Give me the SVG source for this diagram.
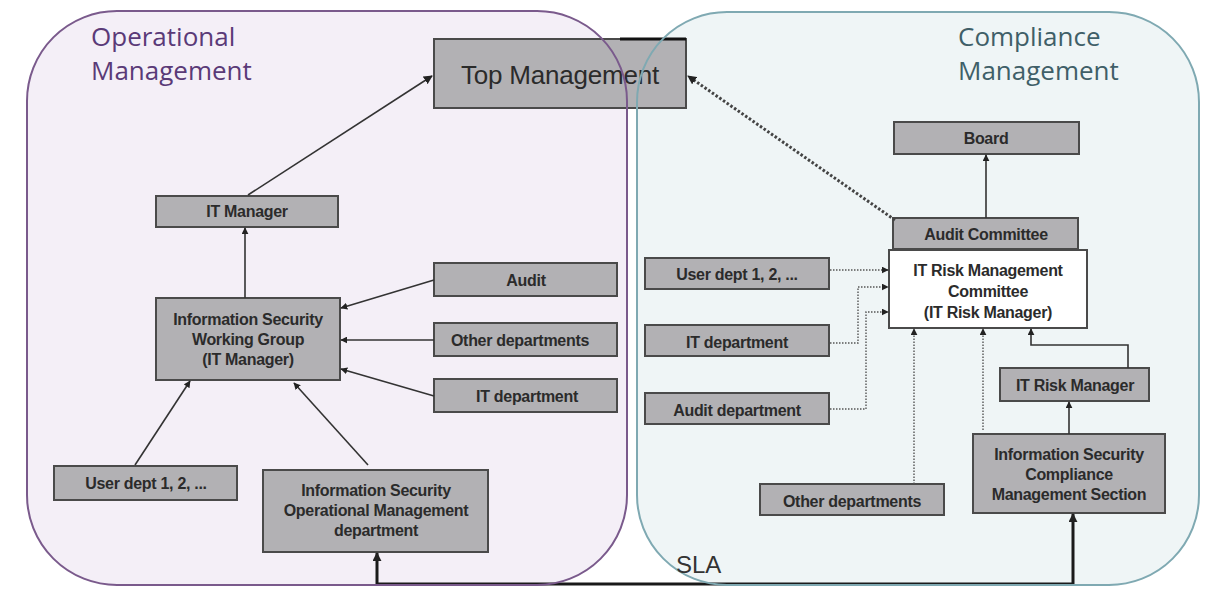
<svg xmlns="http://www.w3.org/2000/svg" width="1220" height="592" viewBox="0 0 1220 592">
<style>
.box{fill:#b2b1b4;stroke:#4a4a4a;stroke-width:2}
.wbox{fill:#ffffff;stroke:#4a4a4a;stroke-width:2}
.t{font-family:"Liberation Sans",Arial,sans-serif;font-size:16px;font-weight:bold;fill:#2b2b2b;text-anchor:middle;letter-spacing:-0.3px}
.c{fill:none;stroke:#333;stroke-width:1.6}
.d{fill:none;stroke:#555;stroke-width:1.4;stroke-dasharray:1.5 1.5}
.dd{fill:none;stroke:#444;stroke-width:3;stroke-dasharray:2.5 2}
.sla{fill:none;stroke:#1a1a1a;stroke-width:3}
.h{font-family:"Open Sans","Noto Sans",sans-serif;font-size:26px}
</style>
<defs>
<marker id="a" viewBox="0 0 10 10" refX="9" refY="5" markerWidth="7" markerHeight="7" orient="auto" markerUnits="userSpaceOnUse"><path d="M0,0L10,5L0,10z" fill="#222"/></marker>
<marker id="as" viewBox="0 0 10 10" refX="9" refY="5" markerWidth="9" markerHeight="9" orient="auto" markerUnits="userSpaceOnUse"><path d="M0,0L10,5L0,10z" fill="#222"/></marker>
</defs>
<rect width="1220" height="592" fill="#ffffff"/>
<g id="containers-fill">
<rect x="27" y="11" width="600" height="574" rx="90" fill="#f4eff7"/>
<rect x="637" y="12" width="562" height="573" rx="90" fill="#eff5f6"/>
</g>
<g id="n-top"><rect class="box" x="434" y="39" width="252" height="69"/><path d="M620,39H686" stroke="#111" stroke-width="3"/><text x="560" y="84" style="font-family:'Liberation Sans',Arial,sans-serif;font-size:26px;fill:#2b2b2b;text-anchor:middle;letter-spacing:-0.2px">Top Management</text></g>
<g id="n-itmgr"><rect class="box" x="156" y="196" width="182" height="31"/><text class="t" x="247" y="217">IT Manager</text></g>
<g id="n-iswg"><rect class="box" x="156" y="298" width="184" height="82"/><text class="t" x="248" y="325">Information Security</text><text class="t" x="248" y="345">Working Group</text><text class="t" x="248" y="365">(IT Manager)</text></g>
<g id="n-audit"><rect class="box" x="434" y="263" width="183" height="33"/><text class="t" x="526" y="286">Audit</text></g>
<g id="n-other-l"><rect class="box" x="434" y="323" width="183" height="33"/><text class="t" x="520" y="346">Other departments</text></g>
<g id="n-itdept-l"><rect class="box" x="434" y="379" width="183" height="33"/><text class="t" x="527" y="402">IT department</text></g>
<g id="n-user-l"><rect class="box" x="54" y="466" width="183" height="34"/><text class="t" x="146" y="489">User dept 1, 2, ...</text></g>
<g id="n-isomd"><rect class="box" x="263" y="470" width="225" height="82"/><text class="t" x="376" y="496">Information Security</text><text class="t" x="376" y="516">Operational Management</text><text class="t" x="376" y="536">department</text></g>
<g id="n-board"><rect class="box" x="894" y="122" width="185" height="32"/><text class="t" x="986" y="144">Board</text></g>
<g id="n-auditcom"><rect class="box" x="893" y="218" width="185" height="31"/><text class="t" x="986" y="240">Audit Committee</text></g>
<g id="n-itrmc"><rect class="wbox" x="889" y="250" width="198" height="78"/><text class="t" x="988" y="276">IT Risk Management</text><text class="t" x="988" y="297">Committee</text><text class="t" x="988" y="318">(IT Risk Manager)</text></g>
<g id="n-user-r"><rect class="box" x="645" y="258" width="184" height="31"/><text class="t" x="737" y="280">User dept 1, 2, ...</text></g>
<g id="n-itdept-r"><rect class="box" x="645" y="325" width="184" height="31"/><text class="t" x="737" y="348">IT department</text></g>
<g id="n-auditdept-r"><rect class="box" x="645" y="393" width="184" height="31"/><text class="t" x="737" y="416">Audit department</text></g>
<g id="n-itrm"><rect class="box" x="1000" y="368" width="149" height="33"/><text class="t" x="1075" y="391">IT Risk Manager</text></g>
<g id="n-iscms"><rect class="box" x="973" y="434" width="192" height="79"/><text class="t" x="1069" y="460">Information Security</text><text class="t" x="1069" y="480">Compliance</text><text class="t" x="1069" y="500">Management Section</text></g>
<g id="n-other-r"><rect class="box" x="760" y="484" width="184" height="31"/><text class="t" x="852" y="507">Other departments</text></g>
<g id="connectors">
<path class="c" d="M248,195L432,76" stroke-width="2.8" marker-end="url(#as)"/>
<path class="c" d="M245,298V228" marker-end="url(#a)"/>
<path class="c" d="M434,280L341,308" marker-end="url(#a)"/>
<path class="c" d="M434,340H341" marker-end="url(#a)"/>
<path class="c" d="M434,396L341,369" marker-end="url(#a)"/>
<path class="c" d="M135,465L190,381" marker-end="url(#a)"/>
<path class="c" d="M368,465L294,383" marker-end="url(#a)"/>
<path class="sla" d="M377,584V553" marker-end="url(#as)"/>
<path class="sla" d="M377,584H1073V514" marker-end="url(#as)"/>
<path class="dd" d="M895,220L688,76" marker-end="url(#as)"/>
<path class="c" d="M986,218V155" stroke-width="2" marker-end="url(#a)"/>
<path class="d" d="M830,270H888" marker-end="url(#a)"/>
<path class="d" d="M830,343H858V287H888" marker-end="url(#a)"/>
<path class="d" d="M830,409H866V312H888" marker-end="url(#a)"/>
<path class="d" d="M914,484V329" marker-end="url(#a)"/>
<path class="d" d="M983,430V329" marker-end="url(#a)"/>
<path class="c" d="M1128,368V345H1031V329" stroke-width="2" marker-end="url(#a)"/>
<path class="c" d="M1069,434V402" stroke-width="2" marker-end="url(#a)"/>
</g>
<g id="containers-outline">
<rect x="27" y="11" width="600" height="574" rx="90" fill="none" stroke="#7a5a8c" stroke-width="2"/>
<rect x="637" y="12" width="562" height="573" rx="90" fill="none" stroke="#7fa9b2" stroke-width="2"/>
</g>
<text class="h" x="91" y="46" fill="#5a3a78">Operational</text>
<text class="h" x="91" y="80" fill="#5a3a78">Management</text>
<text class="h" x="958" y="46" fill="#3f5f68">Compliance</text>
<text class="h" x="958" y="80" fill="#3f5f68">Management</text>
<text x="676" y="573" style="font-family:'Liberation Sans',Arial,sans-serif;font-size:24px;fill:#333">SLA</text>
</svg>
